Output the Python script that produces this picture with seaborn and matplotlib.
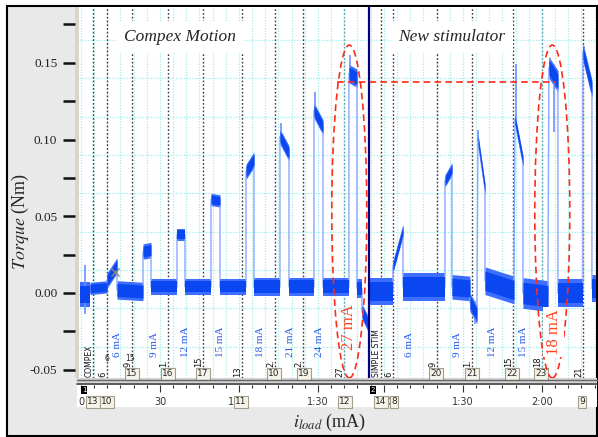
import numpy as np
import pandas as pd
import matplotlib
matplotlib.use('Agg')
import matplotlib.pyplot as plt
from matplotlib.patches import Rectangle, Ellipse
import matplotlib.transforms as mtransforms
import seaborn as sns

W, H = 598, 437

# torque trace, as plateaus: start/end time (s), level at start/end (Nm), noise half width
seg_t0 = [-0.38, 3.42, 9.87, 13.67, 23.54, 26.58, 36.46, 39.49, 49.37, 52.78, 62.66, 65.70, 75.57, 78.99,
          88.48, 91.90, 101.77, 104.81, 106.71,
          109.75, 118.48, 122.28, 138.23, 140.89, 147.72, 150.76, 153.42, 164.81, 167.85, 177.72, 181.14,
          190.63, 194.05]
seg_t1 = [3.42, 9.87, 13.67, 23.54, 26.58, 36.46, 39.49, 49.37, 52.78, 62.66, 65.70, 75.57, 78.99, 88.48,
          91.90, 101.77, 104.81, 106.71, 108.99,
          118.48, 122.28, 138.23, 140.89, 147.72, 150.38, 153.42, 164.43, 167.85, 177.34, 181.14, 190.63,
          194.05, 195.6]
seg_v0 = [-0.001, 0.003, 0.008, 0.002, 0.027, 0.004, 0.038, 0.004, 0.061, 0.004, 0.079, 0.004, 0.102, 0.004,
          0.119, 0.004, 0.143, 0.003, -0.012,
          0.001, 0.017, 0.004, 0.073, 0.004, -0.006, 0.100, 0.008, 0.113, 0.000, 0.147, 0.000, 0.157, 0.003]
seg_v1 = [-0.001, 0.004, 0.018, 0.001, 0.028, 0.004, 0.038, 0.004, 0.060, 0.004, 0.087, 0.004, 0.091, 0.004,
          0.108, 0.004, 0.140, 0.003, -0.020,
          0.001, 0.041, 0.004, 0.081, 0.003, -0.014, 0.068, 0.002, 0.086, -0.002, 0.138, 0.000, 0.133, 0.003]
seg_hw = [0.008, 0.004, 0.005, 0.006, 0.005, 0.005, 0.004, 0.005, 0.004, 0.005, 0.005, 0.006, 0.005, 0.006,
          0.005, 0.006, 0.006, 0.006, 0.005,
          0.009, 0.004, 0.009, 0.004, 0.008, 0.006, 0.004, 0.009, 0.004, 0.010, 0.007, 0.009, 0.006, 0.009]

# single spikes on the trace
spike_t = [1.5, 75.8, 88.7, 102.3, 140.5, 149.5, 150.9, 165.1, 178.0, 179.5, 190.9]
spike_lo = [-0.014, 0.100, 0.118, 0.142, 0.080, -0.020, 0.099, 0.112, 0.145, 0.105, 0.155]
spike_hi = [0.018, 0.111, 0.131, 0.155, 0.083, -0.005, 0.106, 0.149, 0.153, 0.140, 0.161]

# event markers (comments) of the recording
event_t = [4.56, 9.87, 19.37, 33.04, 46.33, 61.14, 73.67, 84.30, 99.87, 113.92, 118.48, 135.19, 148.48,
           164.05, 175.06, 190.63]
event_txt = ['COMPEX', '6', '9', '1.', '15', '13', '2.', '2.', '27', 'SIMPLE STIM', '6', '9', '1.', '15',
             '18', '21']
event_boxed = [False, False, True, True, True, False, True, True, False, False, False, True, True,
               True, True, False]
light_events = [99.87, 175.06]

# stimulation currents
ma_t = [14.05, 28.1, 39.5, 52.8, 68.3, 79.4, 90.4, 124.9, 143.1, 156.4, 168.2]
ma_txt = ['6 mA', '9 mA', '12 mA', '15 mA', '18 mA', '21 mA', '24 mA', '6 mA', '9 mA', '12 mA', '15 mA']

box_t = [19.37, 33.04, 46.33, 73.3, 84.7, 134.8, 148.5, 163.7, 174.7]
box_txt = ['15', '16', '17', '10', '19', '20', '21', '22', '23']
strip_box_t = [4.56, 9.87, 60.76, 100.25, 113.92, 118.86, 190.25]
strip_box_txt = ['13', '10', '11', '12', '14', '8', '9']

time_ticks = [0, 30, 60, 90, 115.06, 145.06, 175.06]
time_labels = ['0', '30', '1:00', '1:30', '1:00', '1:30', '2:00']
block_split = 109.4
block2_offset = 55.06

sns.set_theme(style='white')
plt.rcParams['font.family'] = ['Liberation Serif', 'DejaVu Serif']
plt.rcParams['mathtext.fontset'] = 'stix'


def px(x0, y0, x1, y1):
    return [x0 / W, 1 - y1 / H, (x1 - x0) / W, (y1 - y0) / H]


def frect(x0, y0, x1, y1, **kw):
    r = Rectangle((x0 / W, 1 - y1 / H), (x1 - x0) / W, (y1 - y0) / H, transform=fig.transFigure, **kw)
    fig.add_artist(r)


fig = plt.figure(figsize=(W / 100, H / 100), dpi=100)
fig.patch.set_facecolor('white')
frect(7, 6, 597, 436, fc='#e9e9e9', ec='black', lw=1.5, zorder=-10)
frect(75, 7, 79, 378, fc='#d9d5c8', ec='none', zorder=-5)
frect(77, 378, 597, 407, fc='white', ec='none', zorder=-5)
frect(77, 378, 597, 385, fc='#d4d4d4', ec='none', zorder=-4)
fig.add_artist(plt.Line2D([77 / W, 597 / W], [1 - 379.5 / H] * 2, color='#666666', lw=1))
fig.add_artist(plt.Line2D([77 / W, 597 / W], [1 - 384 / H] * 2, color='#444444', lw=1.2))

ax = fig.add_axes(px(79, 7, 596, 378))
ax.set_facecolor('white')
ax.set_xlim(-0.76, 195.6)
ax.set_ylim(-0.0554, 0.1864)
for s in ax.spines.values():
    s.set_visible(False)
ax.spines['left'].set_position(('outward', 3))

# cyan chart grid (LabChart style)
for g in np.arange(0.165, -0.04, -0.025):
    ax.axhline(g, color='#9eeeee', lw=0.9, ls=(0, (1, 1.2)), zorder=0.5)
grid_x = list(np.arange(0, block_split, 5)) + list(np.arange(block2_offset + 55, 196, 5))
for g in grid_x:
    ax.axvline(g, color='#9eeeee', lw=0.9, ls=(0, (1, 1.2)), zorder=0.5)

for t in event_t:
    c = '#5f9e9e' if t in light_events else '#3a3a3a'
    ax.axvline(t, color=c, lw=1, ls=(0, (1.2, 1.5)), zorder=1)

# trace
for t0, t1, v0, v1, hw in zip(seg_t0, seg_t1, seg_v0, seg_v1, seg_hw):
    ax.fill_between([t0, t1], [v0 - hw, v1 - hw], [v0 + hw, v1 + hw], color='#3d6eff', lw=0, zorder=2.5)
    ax.fill_between([t0, t1], [v0 - hw * 0.7, v1 - hw * 0.7], [v0 + hw * 0.7, v1 + hw * 0.7],
                    color='#0b47f0', lw=0, zorder=3)
trace = pd.DataFrame({'t': [v for p in zip(seg_t0, seg_t1) for v in p],
                      'v': [v for p in zip(seg_v0, seg_v1) for v in p]})
sns.lineplot(data=trace, x='t', y='v', sort=False, estimator=None, color='#8aa8ff', lw=1, ax=ax, zorder=2.8)
ax.vlines(spike_t, spike_lo, spike_hi, color='#6f90ff', lw=1.2, zorder=2.9)
ax.plot([12.9], [0.0137], marker='x', color='#888888', ms=6, mew=1, zorder=4)

ax.axvline(block_split, color='#000080', lw=1.6, zorder=4)

# titles of the two blocks
for t, s in [(37.6, 'Compex Motion'), (140.9, 'New stimulator')]:
    ax.text(t, 0.1669, s, style='italic', fontsize=12.5, ha='center', va='center', zorder=5,
            bbox=dict(boxstyle='square,pad=0.45', fc='white', ec='none'))

for t, s in zip(ma_t, ma_txt):
    ax.text(t, -0.0417, s, rotation=90, color='#2a5ae8', fontsize=8, ha='center', va='bottom', zorder=5)

for t, s, boxed in zip(event_t, event_txt, event_boxed):
    fs = 5.5 if len(s) > 3 else 6
    y0 = -0.0482 if boxed else -0.0548
    ax.text(t - 1.6, y0, s, rotation=90, color='#111111', fontsize=fs, family='DejaVu Sans',
            ha='center', va='bottom', zorder=5)
ax.text(10.0, -0.0425, '6', fontsize=5.5, family='DejaVu Sans', ha='center', va='center', zorder=5)
ax.text(18.6, -0.0425, '15', fontsize=5.5, family='DejaVu Sans', ha='center', va='center', zorder=5)

for t, s in zip(box_t, box_txt):
    ax.text(t, -0.0527, s, fontsize=6.5, family='DejaVu Sans', ha='center', va='center', zorder=6,
            bbox=dict(boxstyle='square,pad=0.15', fc='#f6f3ea', ec='#a39d8c', lw=0.8))

# red highlights
red = '#ff2a1a'
for cx in [101.9, 179.0]:
    ax.add_patch(Ellipse((cx, 0.0531), 13.3, 0.217, fill=False, ec=red, ls=(0, (4, 2.5)), lw=1.2, zorder=6))
ax.hlines(0.1375, 97.2, 180.4, color=red, ls=(0, (4, 2.5)), lw=1.2, zorder=6)
ax.text(101.8, -0.022, '27 mA', rotation=90, color='#ff4422', fontsize=12, ha='center', va='center', zorder=6)
ax.text(179.6, -0.0254, '18 mA', rotation=90, color='#ff4422', fontsize=12, ha='center', va='center', zorder=6,
        bbox=dict(boxstyle='square,pad=0.15', fc='white', ec='none'))

ax.set_xticks([])
ax.set_yticks([-0.05, 0.0, 0.05, 0.10, 0.15])
ax.set_yticklabels(['-0.05', '0.00', '0.05', '0.10', '0.15'])
ax.set_yticks([-0.025, 0.025, 0.075, 0.125, 0.175], minor=True)
ax.tick_params(axis='y', which='both', left=True, direction='out', length=8.6, width=1.8, color='#111111',
               pad=4, labelsize=9.5, labelcolor='#222222')
ax.set_xlabel('')
ax.set_ylabel('')

# time strip below the chart
ax2 = fig.add_axes(px(79, 385, 596, 394))
ax2.set_facecolor('white')
ax2.set_xlim(ax.get_xlim())
ax2.set_ylim(0, 1)
for s in ax2.spines.values():
    s.set_visible(False)
ax2.set_yticks([])
ax2.set_xticks(time_ticks)
ax2.set_xticklabels(time_labels, family='DejaVu Sans', fontsize=7)
ax2.set_xticks(list(np.arange(0, block_split, 5)) + list(np.arange(block2_offset + 55, 196, 5)), minor=True)
ax2.tick_params(axis='x', which='both', top=True, bottom=False, labeltop=False, labelbottom=True,
                direction='in', color='#333333', width=0.8, pad=2, labelcolor='#333333')
ax2.tick_params(axis='x', which='major', length=5)
ax2.tick_params(axis='x', which='minor', length=2.5)
tr = mtransforms.blended_transform_factory(ax2.transData, ax2.transAxes)
for t, s in zip(strip_box_t, strip_box_txt):
    ax2.text(t, -0.85, s, transform=tr, fontsize=6.5, family='DejaVu Sans', ha='center', va='center',
             clip_on=False, zorder=6, bbox=dict(boxstyle='square,pad=0.15', fc='#f6f3ea', ec='#a39d8c', lw=0.8))
for t, s in [(1.14, '1'), (110.9, '2')]:
    ax2.text(t, 0.45, s, transform=tr, fontsize=5, family='DejaVu Sans', color='white', ha='center',
             va='center', clip_on=False, bbox=dict(boxstyle='square,pad=0.15', fc='black', ec='none'))

fig.text(20 / W, 1 - 222 / H, r'$\mathit{Torque}$ (Nm)', rotation=90, fontsize=13, ha='center', va='center')
fig.text(329 / W, 1 - 422 / H, r'$\mathit{i}_{\mathit{load}}$ (mA)', fontsize=13, ha='center', va='center')

fig.savefig('out.png', dpi=100)
